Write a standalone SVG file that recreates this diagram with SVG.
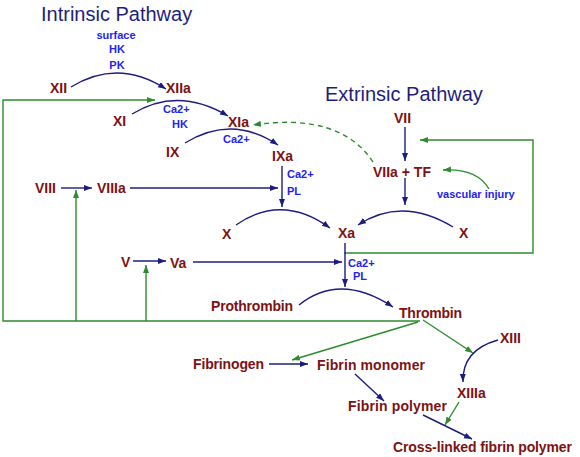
<svg xmlns="http://www.w3.org/2000/svg" width="580" height="457" viewBox="0 0 580 457">
<style>
.t{font-family:"Liberation Sans",Arial,sans-serif;font-size:20px;fill:#1e1e7a}
.n{font-family:"Liberation Sans",Arial,sans-serif;font-size:14px;font-weight:bold;fill:#7d1212}
.c{font-family:"Liberation Sans",Arial,sans-serif;font-size:11px;font-weight:bold;fill:#2323f0}
.b{fill:none;stroke:#1c1c80;stroke-width:1.4}
.g{fill:none;stroke:#2e8b2e;stroke-width:1.4}
</style>
<defs>
<marker id="ab" markerUnits="userSpaceOnUse" markerWidth="9" markerHeight="7" refX="8" refY="3" orient="auto"><path d="M0,0 L8,3 L0,6 z" fill="#1c1c80"/></marker>
<marker id="ag" markerUnits="userSpaceOnUse" markerWidth="9" markerHeight="7" refX="8" refY="3" orient="auto"><path d="M0,0 L8,3 L0,6 z" fill="#2e8b2e"/></marker>
</defs>
<rect width="580" height="457" fill="#ffffff"/>
<g id="titles">
<text class="t" x="41" y="21">Intrinsic Pathway</text>
<text class="t" x="325" y="101">Extrinsic Pathway</text>
</g>
<g id="connectors">
<path class="g" d="M420,321 H3 V100 H155" marker-end="url(#ag)"/>
<path class="g" d="M76,321 V190" marker-end="url(#ag)"/>
<path class="g" d="M146,321 V265" marker-end="url(#ag)"/>
<path class="g" d="M344,253 H533 V140 H420" marker-end="url(#ag)"/>
<path class="g" d="M418,322 L292,360" marker-end="url(#ag)"/>
<path class="g" d="M423,320 L473,353" marker-end="url(#ag)"/>
<path class="g" d="M459,402 L445,425" marker-end="url(#ag)"/>
<path class="g" d="M489,189 Q477,168 443,170" marker-end="url(#ag)"/>
<path class="g" d="M373,162 Q340,112 253,125" stroke-dasharray="5,4" marker-end="url(#ag)"/>
<path class="b" d="M71,87 Q118,58 166,89" marker-end="url(#ab)"/>
<path class="b" d="M132,114 Q178,86 228,116" marker-end="url(#ab)"/>
<path class="b" d="M185,143 Q232,114 278,145" marker-end="url(#ab)"/>
<path class="b" d="M236,225 Q282,193 330,228" marker-end="url(#ab)"/>
<path class="b" d="M453,227 Q402,196 358,225" marker-end="url(#ab)"/>
<path class="b" d="M299,305 Q340,272 393,307" marker-end="url(#ab)"/>
<path class="b" d="M498,340 Q462,350 463,382" marker-end="url(#ab)"/>
<path class="b" d="M61,188 H92" marker-end="url(#ab)"/>
<path class="b" d="M130,188 H278" marker-end="url(#ab)"/>
<path class="b" d="M133,261 H166" marker-end="url(#ab)"/>
<path class="b" d="M193,262 H342" marker-end="url(#ab)"/>
<path class="b" d="M282,166 V207" marker-end="url(#ab)"/>
<path class="b" d="M405,127 V161" marker-end="url(#ab)"/>
<path class="b" d="M405,178 V205" marker-end="url(#ab)"/>
<path class="b" d="M345,243 V287" marker-end="url(#ab)"/>
<path class="b" d="M269,364 H308" marker-end="url(#ab)"/>
<path class="b" d="M355,374 L384,401" marker-end="url(#ab)"/>
<path class="b" d="M423,415 L472,439" marker-end="url(#ab)"/>
</g>
<g id="cofactors">
<text class="c" x="116" y="39" text-anchor="middle">surface</text>
<text class="c" x="117" y="53" text-anchor="middle">HK</text>
<text class="c" x="117" y="69" text-anchor="middle">PK</text>
<text class="c" x="163" y="113">Ca2+</text>
<text class="c" x="172" y="128">HK</text>
<text class="c" x="223" y="143">Ca2+</text>
<text class="c" x="287" y="178">Ca2+</text>
<text class="c" x="287" y="195">PL</text>
<text class="c" x="348" y="267">Ca2+</text>
<text class="c" x="353" y="280">PL</text>
<text class="c" x="437" y="198">vascular injury</text>
</g>
<g id="XII"><text class="n" x="50" y="93">XII</text></g>
<g id="XIIa"><text class="n" x="166" y="93">XIIa</text></g>
<g id="XI"><text class="n" x="113" y="126">XI</text></g>
<g id="XIa"><text class="n" x="228" y="127">XIa</text></g>
<g id="IX"><text class="n" x="166" y="157">IX</text></g>
<g id="IXa"><text class="n" x="272" y="161">IXa</text></g>
<g id="VIII"><text class="n" x="35" y="193">VIII</text></g>
<g id="VIIIa"><text class="n" x="97" y="193">VIIIa</text></g>
<g id="X-left"><text class="n" x="222" y="239">X</text></g>
<g id="Xa"><text class="n" x="338" y="238">Xa</text></g>
<g id="X-right"><text class="n" x="459" y="238">X</text></g>
<g id="VII"><text class="n" x="394" y="123">VII</text></g>
<g id="VIIa-TF"><text class="n" x="373" y="177">VIIa + TF</text></g>
<g id="V"><text class="n" x="121" y="267">V</text></g>
<g id="Va"><text class="n" x="170" y="268">Va</text></g>
<g id="Prothrombin"><text class="n" x="211" y="311" textLength="82">Prothrombin</text></g>
<g id="Thrombin"><text class="n" x="399" y="318" textLength="63">Thrombin</text></g>
<g id="XIII"><text class="n" x="500" y="343">XIII</text></g>
<g id="XIIIa"><text class="n" x="457" y="398">XIIIa</text></g>
<g id="Fibrinogen"><text class="n" x="193" y="369" textLength="71">Fibrinogen</text></g>
<g id="Fibrin-monomer"><text class="n" x="317" y="370" textLength="108">Fibrin monomer</text></g>
<g id="Fibrin-polymer"><text class="n" x="348" y="411" textLength="99">Fibrin polymer</text></g>
<g id="Cross-linked"><text class="n" x="393" y="452" textLength="179">Cross-linked fibrin polymer</text></g>
</svg>
